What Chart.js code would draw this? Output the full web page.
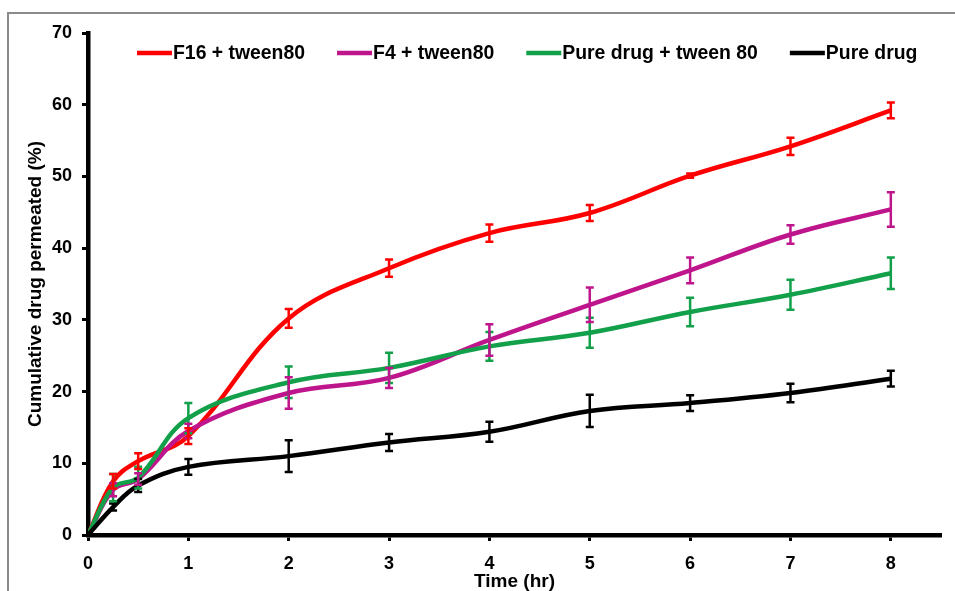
<!DOCTYPE html>
<html>
<head>
<meta charset="utf-8">
<script src="https://cdn.jsdelivr.net/npm/chart.js@4.4.1/dist/chart.umd.min.js"></script>
<style>
    html, body { margin: 0; padding: 0; background: #fff; }
    #wrap { position: relative; width: 955px; height: 591px; overflow: hidden; }
    #frame { position: absolute; left: 7px; top: 12px; width: 960px; height: 600px;
             border-left: 2px solid #8a8a8a; border-top: 2px solid #8a8a8a; }
    canvas { position: absolute; left: 0; top: 0; }
</style>
</head>
<body>
<div id="wrap">
    <div id="frame"></div>
    <canvas id="chart" width="955" height="591"></canvas>
</div>
<script>
// Время отбора проб (ч)
const time = [0, 0.25, 0.5, 1, 2, 3, 4, 5, 6, 7, 8];

// Кумулятивное проникновение (%) и стандартные отклонения
const f16 = [0, 7.5, 10.3, 13.8, 30.2, 37.2, 42.1, 44.9, 50.1, 54.2, 59.2];
const f16Err = [0, 1.0, 1.1, 1.1, 1.3, 1.2, 1.2, 1.1, 0.3, 1.2, 1.1];

const f4 = [0, 6.3, 7.8, 14.5, 19.8, 21.9, 27.2, 32.1, 36.9, 41.9, 45.4];
const f4Err = [0, 0.9, 0.8, 1.0, 2.2, 1.4, 2.2, 2.4, 1.8, 1.3, 2.4];

const pureTween = [0, 6.6, 8.0, 16.3, 21.3, 23.3, 26.3, 28.2, 31.1, 33.5, 36.5];
const pureTweenErr = [0, 1.9, 1.5, 2.1, 2.2, 2.1, 2.0, 2.1, 2.0, 2.1, 2.2];

const pure = [0, 3.9, 6.9, 9.5, 11.0, 12.9, 14.4, 17.3, 18.4, 19.8, 21.8];
const pureErr = [0, 0.5, 0.9, 1.1, 2.2, 1.2, 1.4, 2.25, 1.1, 1.3, 1.1];

const seriesNames = ['F16 + tween80', 'F4 + tween80', 'Pure drug + tween 80', 'Pure drug'];
const seriesColors = ['#ff0000', '#be148c', '#12a04a', '#000000'];

const FONT = '"Liberation Sans", Arial, sans-serif';

function makeSet(i, values, errors) {
    return {
        label: seriesNames[i],
        data: time.map((t, k) => ({x: t, y: values[k]})),
        errors: errors,
        borderColor: seriesColors[i],
        backgroundColor: seriesColors[i],
        borderWidth: 4.5,
        pointRadius: 0,
        tension: 0.38,
        order: 4 - i
    };
}

// Планки погрешностей поверх линий
const errorBars = {
    id: 'errorBars',
    afterDatasetsDraw(chart) {
        const ctx = chart.ctx;
        const yScale = chart.scales.y;
        const xScale = chart.scales.x;
        for (let i = chart.data.datasets.length - 1; i >= 0; i--) {
            const ds = chart.data.datasets[i];
            ctx.save();
            ctx.strokeStyle = ds.borderColor;
            ctx.lineWidth = 2.5;
            ds.data.forEach((p, k) => {
                const e = ds.errors[k];
                if (!e) return;
                const px = xScale.getPixelForValue(p.x);
                const top = yScale.getPixelForValue(p.y + e);
                const bot = yScale.getPixelForValue(p.y - e);
                ctx.beginPath();
                ctx.moveTo(px, top);
                ctx.lineTo(px, bot);
                ctx.moveTo(px - 4, top);
                ctx.lineTo(px + 4, top);
                ctx.moveTo(px - 4, bot);
                ctx.lineTo(px + 4, bot);
                ctx.stroke();
            });
            ctx.restore();
        }
    }
};

// Легенда внутри области построения
const insideLegend = {
    id: 'insideLegend',
    afterDraw(chart) {
        const ctx = chart.ctx;
        ctx.save();
        ctx.font = 'bold 19.4px ' + FONT;
        ctx.textBaseline = 'middle';
        let x = 137;
        const y = 53;
        chart.data.datasets.forEach(ds => {
            ctx.strokeStyle = ds.borderColor;
            ctx.lineWidth = 4.5;
            ctx.beginPath();
            ctx.moveTo(x, y);
            ctx.lineTo(x + 35, y);
            ctx.stroke();
            ctx.fillStyle = '#000';
            ctx.fillText(ds.label, x + 36, y + 1);
            x += 36 + ctx.measureText(ds.label).width + 32;
        });
        ctx.restore();
    }
};

new Chart(document.getElementById('chart'), {
    type: 'line',
    data: {
        datasets: [
            makeSet(0, f16, f16Err),
            makeSet(1, f4, f4Err),
            makeSet(2, pureTween, pureTweenErr),
            makeSet(3, pure, pureErr)
        ]
    },
    options: {
        responsive: false,
        animation: false,
        layout: { padding: { left: 0, right: 14, top: 33, bottom: 0 } },
        plugins: {
            legend: { display: false },
            tooltip: { enabled: false }
        },
        scales: {
            x: {
                type: 'linear',
                min: 0,
                max: 8.5,
                afterFit(scale) { scale.height = 56; },
                border: { display: true, width: 4.5, color: '#000' },
                grid: { drawOnChartArea: false, drawTicks: true, tickLength: 6, tickWidth: 3, tickColor: '#000' },
                ticks: {
                    stepSize: 1,
                    includeBounds: false,
                    color: '#000',
                    padding: 12,
                    font: { family: FONT, size: 18, weight: 'bold' }
                },
                title: {
                    display: true,
                    text: 'Time (hr)',
                    color: '#000',
                    padding: { top: 0, bottom: 0 },
                    font: { family: FONT, size: 19, weight: 'bold', lineHeight: 1.0 }
                }
            },
            y: {
                min: 0,
                max: 70,
                afterFit(scale) { scale.width = 88; },
                border: { display: true, width: 4.5, color: '#000' },
                grid: { drawOnChartArea: false, drawTicks: true, tickLength: 6, tickWidth: 3, tickColor: '#000' },
                ticks: {
                    stepSize: 10,
                    color: '#000',
                    padding: 10,
                    font: { family: FONT, size: 18, weight: 'bold' }
                },
                title: {
                    display: true,
                    text: 'Cumulative drug permeated (%)',
                    color: '#000',
                    padding: { top: 24, bottom: 0 },
                    font: { family: FONT, size: 19, weight: 'bold' }
                }
            }
        }
    },
    plugins: [errorBars, insideLegend]
});
</script>
</body>
</html>
